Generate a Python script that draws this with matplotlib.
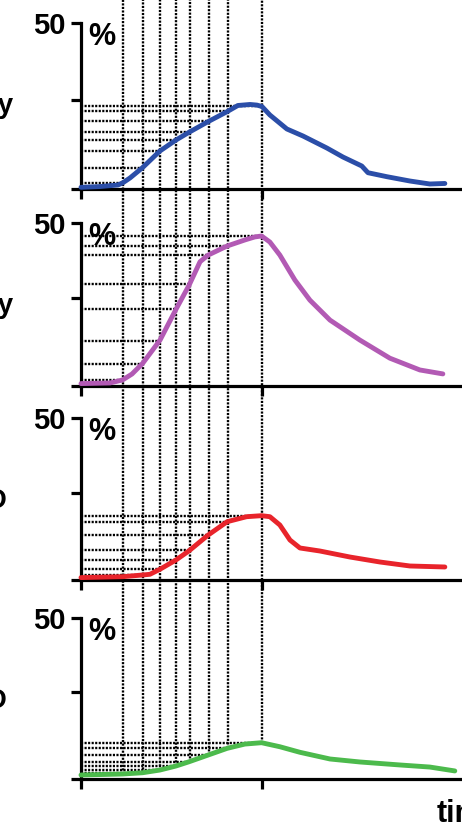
import numpy as np
import matplotlib
matplotlib.use("Agg")
import matplotlib.pyplot as plt
from matplotlib.lines import Line2D

plt.rcParams['font.family'] = ['Liberation Sans', 'DejaVu Sans']

# time points marked with dotted guide lines
sample_times = [2.3, 3.4, 4.35, 5.25, 6.0, 7.05, 8.1, 10.0]

# panel 1 (blue)
blue_t = [0.0, 1.05, 2.04, 2.32, 2.71, 3.41, 4.36, 5.25, 5.97, 7.02, 8.07, 8.67,
          9.34, 9.72, 10.0, 10.44, 11.38, 12.27, 13.59, 14.48, 15.52, 15.86,
          16.91, 18.18, 19.28, 20.11]
blue_v = [-3.55, -3.3, -2.8, -2.05, -0.5, 2.9, 8.26, 11.84, 14.35, 17.8, 21.05, 23.07,
          23.4, 23.2, 22.74, 19.98, 15.42, 13.14, 9.23, 6.3, 3.38, 1.2,
          -0.1, -1.5, -2.47, -2.3]

# panel 2 (purple)
purple_t = [0.0, 1.6, 2.3, 2.82, 3.41, 4.37, 5.25, 5.98, 6.58, 7.03, 8.08, 9.06,
            9.61, 9.98, 10.44, 10.99, 11.82, 12.65, 13.76, 15.41, 17.07, 18.73, 20.0]
purple_v = [-3.2, -3.0, -2.0, -0.03, 3.5, 11.2, 21.36, 29.4, 37.1, 39.3, 42.3, 44.3,
            45.3, 45.6, 43.6, 39.3, 31.05, 24.4, 17.8, 11.2, 5.2, 1.3, 0.0]

# panel 3 (red)
red_t = [0.0, 2.3, 3.41, 3.81, 4.36, 5.25, 5.98, 7.03, 8.08, 9.15, 9.98, 10.44,
         10.99, 11.55, 12.1, 13.2, 14.86, 16.52, 18.18, 20.11]
red_v = [-3.2, -2.9, -2.33, -2.1, -0.44, 2.66, 5.75, 10.97, 15.4, 17.06, 17.4, 17.06,
         14.3, 9.3, 6.65, 5.65, 3.65, 1.99, 0.66, 0.33]

# panel 4 (green)
green_t = [0.0, 2.3, 3.41, 4.36, 5.25, 5.98, 7.03, 8.08, 9.06, 9.98, 10.99, 12.1,
           13.76, 15.41, 17.62, 19.28, 20.66]
green_v = [-2.66, -2.33, -1.9, -1.0, 0.35, 1.79, 4.03, 6.27, 7.7, 8.15, 6.8, 4.94,
           2.7, 1.7, 0.7, 0.0, -1.3]

row_labels = ["Healthy", "Healthy", "COVID", "COVID"]
colors = ["#2b4ea8", "#b25ab4", "#e8242b", "#4cba4c"]
series = [(blue_t, blue_v), (purple_t, purple_v), (red_t, red_v), (green_t, green_v)]

Y_MIN, Y_MAX = -4, 50
X_MAX = 21.5

W, H = 462, 830
fig = plt.figure(figsize=(W / 100, H / 100), dpi=100)
fig.patch.set_facecolor("white")

# panel extents in pixels: (top of y axis, x axis line)
panel_px = [(22.7, 188.7), (222.7, 386.0), (417.7, 580.0), (617.7, 779.0)]
left_px, right_px = 81.0, 470.0
# right edge of each row label, in pixels
label_right_px = [13, 13, 8, 8]

dot_kw = dict(color="black", lw=1.7, linestyle=(0, (0.9, 0.6)), dash_capstyle="butt")

axes = []
for i, ((top, bot), (t, v), col, lab) in enumerate(zip(panel_px, series, colors, row_labels)):
    ax = fig.add_axes([left_px / W, 1 - bot / H, (right_px - left_px) / W, (bot - top) / H])
    ax.patch.set_visible(False)
    ax.set_xlim(0, X_MAX)
    ax.set_ylim(Y_MIN, Y_MAX)
    for s in ("top", "right"):
        ax.spines[s].set_visible(False)
    for s in ("left", "bottom"):
        ax.spines[s].set_linewidth(2.3)
        ax.spines[s].set_capstyle("projecting")
    ax.set_yticks([Y_MIN, 25, 50])
    ax.set_yticklabels(["", "", "50"], fontsize=21, fontweight="bold")
    ax.set_xticks([0, 10])
    ax.set_xticklabels([])
    ax.tick_params(axis="both", direction="out", length=7.2, width=2.3, pad=4)

    # horizontal guides from the y axis to the curve at each sample time
    levels = np.interp(sample_times, t, v)
    for st, lv in zip(sample_times, levels):
        ax.plot([0, st], [lv, lv], zorder=1, **dot_kw)

    ax.plot(t, v, color=col, lw=3.5, solid_joinstyle="round", solid_capstyle="round",
            zorder=3, clip_on=False)

    ax.annotate("%", xy=(0, 1), xycoords="axes fraction", xytext=(7, 1),
                textcoords="offset pixels", ha="left", va="top",
                fontsize=22, fontweight="bold")

    fig.text(label_right_px[i] / W, 1 - (top + 90) / H, lab, ha="right", va="baseline",
             fontsize=20, fontweight="bold")
    axes.append(ax)

# vertical guides: from the lowest curve up through every panel
ax_last = axes[-1]
gt, gv = series[-1]
inv = fig.transFigure.inverted()
for st in sample_times:
    lv = np.interp(st, gt, gv)
    xf, yf = inv.transform(ax_last.transData.transform((st, lv)))
    fig.add_artist(Line2D([xf, xf], [yf, 1.01], transform=fig.transFigure,
                          zorder=-1, **dot_kw))

fig.text(437 / W, 1 - 822 / H, "time", ha="left", va="baseline",
         fontsize=22, fontweight="bold")

fig.savefig("out.png", dpi=100)
